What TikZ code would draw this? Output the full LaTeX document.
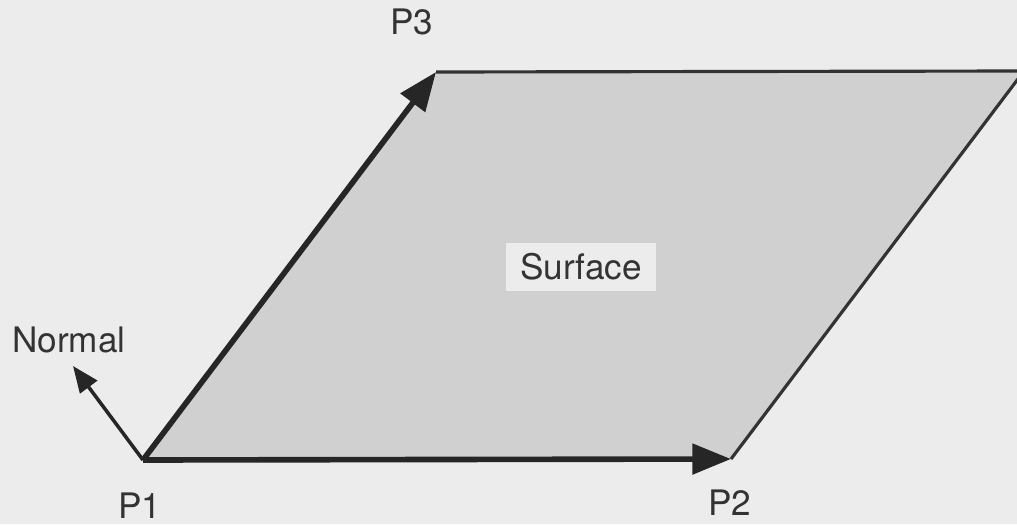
\documentclass[tikz,border=0pt]{standalone}
\usepackage{fontspec}
\setmainfont{TeX Gyre Heros}
\usetikzlibrary{arrows.meta}
\definecolor{paper}{RGB}{236,236,236}
\definecolor{surfgray}{RGB}{208,208,208}
\begin{document}
\begin{tikzpicture}[x=0.02cm, y=-0.02cm,
    edge/.style={draw=black!85, line width=3.2pt},
    rim/.style={draw=black!80, line width=1.8pt},
    vec/.style={edge, -{Triangle[length=22pt, width=17pt]}},
    lbl/.style={font=\fontsize{20}{24}\selectfont, text=black!80, inner sep=2pt}]
  \fill[paper] (0,0) rectangle (1017,524);
  \useasboundingbox (0,0) rectangle (1017,524);
  \clip (0,0) rectangle (1017,524);
  % corners of the surface
  \coordinate (p1) at (143,460);
  \coordinate (p2) at (731,459);
  \coordinate (p3) at (436,72);
  \coordinate (p4) at (1024,71);
  \coordinate (nrm) at (73,366);
  \fill[surfgray] (p1) -- (p2) -- (p4) -- (p3) -- cycle;
  \draw[rim] (p3) -- (p4) -- (p2);
  \draw[vec] (p1) -- (p2);
  \draw[vec] (p1) -- (p3);
  \draw[edge, line width=2pt, -{Triangle[length=15pt, width=12pt]}] (p1) -- (nrm);
  % labels
  \node[lbl] (lp1) at (140,506) {P1};
  \node[lbl] (lp2) at (730,503) {P2};
  \node[lbl] (lp3) at (412,22) {P3};
  \node[lbl] (lnrm) at (69,340) {Normal};
  \node[lbl, fill=paper, inner xsep=8pt, inner ysep=6pt] (lsurf) at (581,267) {Surface};
\end{tikzpicture}
\end{document}
